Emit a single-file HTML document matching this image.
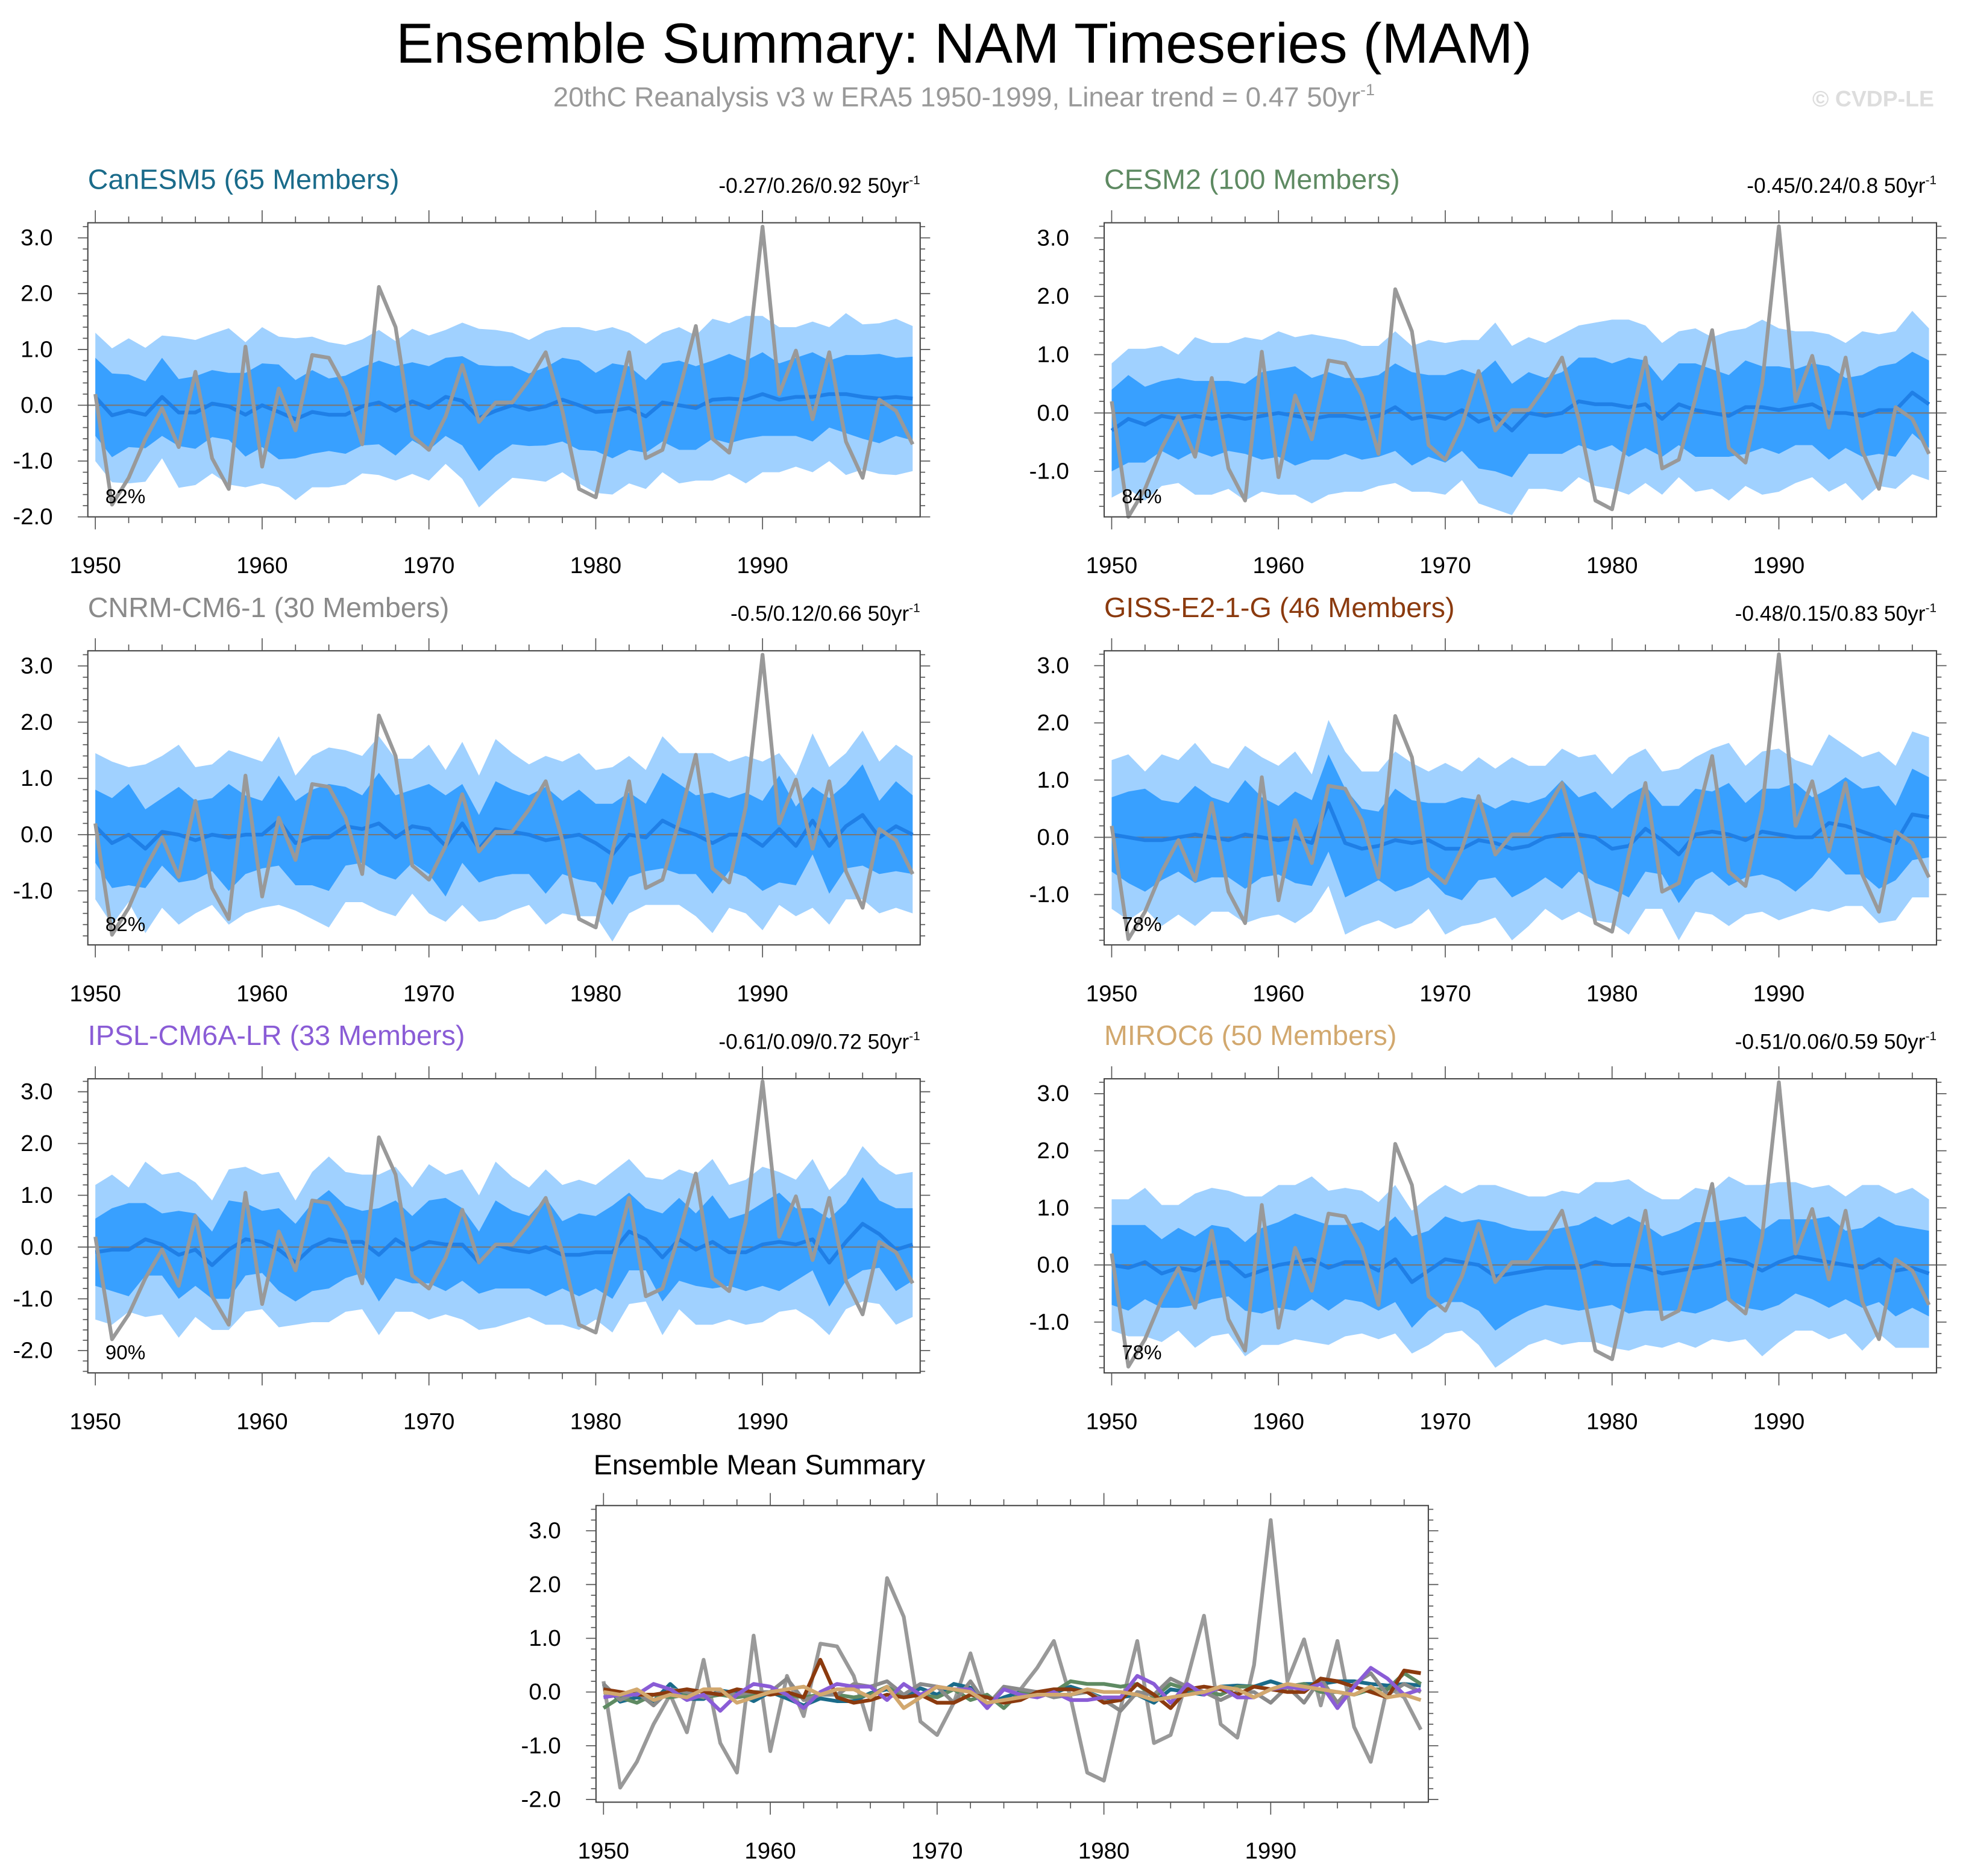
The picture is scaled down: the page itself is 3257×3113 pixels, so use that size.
<!DOCTYPE html>
<html><head><meta charset="utf-8"><style>
html,body{margin:0;padding:0;background:#fff;}
svg{display:block;}
text{font-family:"Liberation Sans",sans-serif;}
</style></head><body>
<svg id="chart" width="3257" height="3113" viewBox="0 0 1568 1499" xmlns="http://www.w3.org/2000/svg">
<text x="770" y="50" text-anchor="middle" font-size="45">Ensemble Summary: NAM Timeseries (MAM)</text>
<text x="770" y="85" text-anchor="middle" font-size="22" fill="#999">20thC Reanalysis v3 w ERA5 1950-1999, Linear trend = 0.47 50yr<tspan dy="-9" font-size="13">-1</tspan></text>
<text x="1545" y="85" text-anchor="end" font-size="18" font-weight="bold" fill="#ddd">© CVDP-LE</text>
<g id="panels"></g>
</svg>
<script>
const years=[];for(let y=1950;y<=1999;y++)years.push(y);
const obs=[0.2,-1.78,-1.3,-0.6,-0.05,-0.75,0.6,-0.95,-1.5,1.05,-1.1,0.3,-0.45,0.9,0.85,0.3,-0.7,2.12,1.4,-0.55,-0.8,-0.2,0.72,-0.3,0.05,0.05,0.45,0.95,-0.1,-1.5,-1.65,-0.3,0.95,-0.95,-0.8,0.25,1.42,-0.6,-0.85,0.5,3.2,0.2,0.98,-0.25,0.95,-0.65,-1.3,0.1,-0.1,-0.7];
const meanCan=[0.15,-0.18,-0.1,-0.17,0.15,-0.13,-0.13,0.03,-0.02,-0.17,0.0,-0.12,-0.25,-0.12,-0.17,-0.17,-0.02,0.05,-0.1,0.07,-0.05,0.15,0.08,-0.23,-0.1,0,-0.08,-0.02,0.1,0.0,-0.12,-0.1,-0.05,-0.2,0.05,0.0,-0.05,0.1,0.12,0.1,0.2,0.1,0.15,0.15,0.2,0.2,0.15,0.12,0.15,0.12];
const meanCesm=[-0.3,-0.1,-0.2,-0.05,-0.1,-0.05,-0.1,-0.05,-0.1,-0.05,0.0,-0.05,-0.1,-0.05,-0.05,-0.1,-0.05,0.1,-0.1,-0.05,-0.1,0.05,-0.15,-0.05,-0.3,0.0,-0.05,0.0,0.2,0.15,0.15,0.1,0.15,-0.1,0.15,0.05,0.0,-0.05,0.1,0.1,0.05,0.1,0.15,0.0,0.0,-0.05,0.05,0.05,0.35,0.15];
const meanCnrm=[0.15,-0.15,0.0,-0.25,0.05,0.0,-0.1,0.0,-0.05,0.0,0.0,0.25,-0.15,-0.05,-0.05,0.15,0.1,0.2,-0.05,0.15,0.1,-0.2,0.2,-0.25,0.1,0.05,0.0,-0.1,-0.05,0.0,-0.15,-0.35,0.0,-0.05,0.25,0.1,0.0,-0.15,0.0,0.0,-0.2,0.1,-0.2,0.25,-0.2,0.15,0.35,-0.05,0.15,0.0];
const meanGiss=[0.05,0.0,-0.05,-0.05,0.0,0.05,0.0,-0.05,0.05,0.0,-0.05,0.0,-0.1,0.6,-0.1,-0.2,-0.15,-0.05,-0.1,-0.05,-0.2,-0.2,-0.05,-0.1,-0.2,-0.15,0.0,0.05,0.05,0.0,-0.2,-0.15,0.15,-0.05,-0.3,0.05,0.1,0.05,-0.05,0.1,0.05,0.0,0.0,0.25,0.2,0.1,0.0,-0.1,0.4,0.35];
const meanIpsl=[-0.1,-0.05,-0.05,0.15,0.05,-0.15,-0.05,-0.35,-0.05,0.15,0.1,-0.05,-0.3,0.0,0.15,0.1,0.1,-0.15,0.15,-0.05,0.1,0.05,0.05,-0.3,0.05,-0.05,-0.1,0.0,-0.15,-0.15,-0.1,-0.1,0.3,0.15,-0.2,0.15,-0.05,0.1,-0.1,-0.1,0.05,0.1,0.05,0.15,-0.3,0.1,0.45,0.25,-0.05,0.05];
const meanMiroc=[0.0,-0.05,0.05,-0.15,-0.05,-0.1,0.05,0.05,-0.2,-0.1,0.0,0.05,0.1,-0.05,0.05,0.05,-0.1,0.1,-0.3,-0.1,0.1,0.05,0.0,-0.2,-0.15,-0.1,-0.05,-0.05,-0.05,0.05,0.0,0.0,-0.05,-0.15,-0.1,-0.05,0.0,0.1,0.05,-0.1,0.05,0.15,0.1,0.05,0.0,-0.05,0.1,-0.1,-0.05,-0.15];
const innerA=[0.7,0.75,0.65,0.6,0.7,0.6,0.65,0.6,0.6,0.75,0.75,0.85,0.7,0.75,0.65,0.7,0.7,0.75,0.8,0.7,0.75,0.7,0.8,0.95,0.8,0.7,0.65,0.7,0.75,0.8,0.7,0.85,0.75,0.65,0.7,0.8,0.75,0.7,0.8,0.7,0.75,0.65,0.7,0.8,0.6,0.7,0.75,0.8,0.7,0.75];
const outerA=[1.15,1.2,1.3,1.2,1.1,1.35,1.3,1.25,1.4,1.3,1.4,1.35,1.45,1.35,1.3,1.25,1.2,1.3,1.25,1.3,1.3,1.2,1.4,1.6,1.45,1.3,1.25,1.35,1.3,1.4,1.45,1.5,1.35,1.3,1.25,1.4,1.3,1.45,1.35,1.5,1.4,1.3,1.25,1.35,1.2,1.45,1.3,1.35,1.4,1.3];
const innerB=[0.65,0.8,0.9,0.7,0.6,0.85,0.7,0.65,0.95,0.7,0.6,0.8,0.75,0.85,0.95,0.7,0.6,0.9,0.75,0.65,0.8,0.9,0.7,0.6,0.85,0.75,0.7,0.95,0.65,0.8,0.7,0.9,0.75,0.6,0.85,0.8,0.7,0.9,0.65,0.75,0.8,0.95,0.7,0.6,0.85,0.75,0.9,0.65,0.8,0.7];
const outerB=[1.3,1.45,1.2,1.5,1.35,1.6,1.3,1.25,1.55,1.4,1.3,1.5,1.2,1.45,1.6,1.35,1.3,1.55,1.4,1.2,1.5,1.35,1.45,1.3,1.6,1.4,1.25,1.5,1.35,1.45,1.3,1.55,1.4,1.2,1.5,1.35,1.45,1.6,1.3,1.4,1.5,1.35,1.25,1.55,1.4,1.3,1.5,1.35,1.45,1.4];
const modelNames=["CanESM5 (65 Members)","CESM2 (100 Members)","CNRM-CM6-1 (30 Members)","GISS-E2-1-G (46 Members)","IPSL-CM6A-LR (33 Members)","MIROC6 (50 Members)"];
const trendLabels=["-0.27/0.26/0.92","-0.45/0.24/0.8","-0.5/0.12/0.66","-0.48/0.15/0.83","-0.61/0.09/0.72","-0.51/0.06/0.59"];
const pctLabels=["82%","84%","82%","78%","90%","78%"];
const yTickLabels=["-2.0","-1.0","0.0","1.0","2.0","3.0"];
const yTickValues=[-2,-1,0,1,2,3];
const xTickValues=[1950,1960,1970,1980,1990];

const NS="http://www.w3.org/2000/svg";
const root=document.getElementById('panels');
function mk(tag,attrs,parent){const e=document.createElementNS(NS,tag);for(const k in attrs)e.setAttribute(k,attrs[k]);(parent||root).appendChild(e);return e;}

const models=[
 {mean:meanCan,inner:innerA,outer:outerA,color:"#1a6b8a",x:70,y:178,ymin:-2.0,ymax:3.27},
 {mean:meanCesm,inner:innerA,outer:outerA,color:"#5e8a62",x:882,y:178,ymin:-1.78,ymax:3.26},
 {mean:meanCnrm,inner:innerB,outer:outerB,color:"#8a8a8a",x:70,y:520,ymin:-1.96,ymax:3.27},
 {mean:meanGiss,inner:innerB,outer:outerB,color:"#8b3a0e",x:882,y:520,ymin:-1.88,ymax:3.26},
 {mean:meanIpsl,inner:innerB,outer:outerB,color:"#8a5cd6",x:70,y:862,ymin:-2.43,ymax:3.25},
 {mean:meanMiroc,inner:innerA,outer:outerA,color:"#d2a86e",x:882,y:862,ymin:-1.89,ymax:3.26}
];
const W=665,H=235;

function axes(g,x0,y0,w,h,ymin,ymax){
  const sx=v=>x0+6+(v-1950)*(w-12)/49;
  const sy=v=>y0+h-(v-ymin)*h/(ymax-ymin);
  return {sx,sy};
}
function drawFrame(g,x0,y0,w,h,ymin,ymax,sx,sy){
  const fr=mk('rect',{x:x0,y:y0,width:w,height:h,fill:'none',stroke:'#444','stroke-width':1},g);
  
  
  for(let v=Math.ceil(ymin*5)/5;v<=ymax+1e-9;v+=0.2){
    const vv=Math.round(v*10)/10;const major=Math.abs(vv-Math.round(vv))<1e-6;
    const L=major?8:4;const yy=sy(vv);
    mk('line',{x1:x0-L,x2:x0,y1:yy,y2:yy,stroke:'#555','stroke-width':0.8},g);
    mk('line',{x1:x0+w,x2:x0+w+L,y1:yy,y2:yy,stroke:'#555','stroke-width':0.8},g);
  }
  yTickValues.forEach((v,i)=>{if(v<ymin-1e-6||v>ymax)return;
    const t=mk('text',{x:x0-28,y:sy(v)+6,'text-anchor':'end','font-size':18.5},g);t.textContent=yTickLabels[i];
    
    });
  for(let yr=1950;yr<=1999;yr+=2){const major=(yr%10===0);const L=major?10:5;const xx=sx(yr);
    mk('line',{x1:xx,x2:xx,y1:y0+h,y2:y0+h+L,stroke:'#555','stroke-width':0.8},g);
    mk('line',{x1:xx,x2:xx,y1:y0-L,y2:y0,stroke:'#555','stroke-width':0.8},g);}
  xTickValues.forEach(v=>{const t=mk('text',{x:sx(v),y:y0+h+45,'text-anchor':'middle','font-size':18.5},g);t.textContent=v;
    
    });
}
function line(g,arr,sx,sy,color,wd){
  const d=arr.map((v,i)=>(i?'L':'M')+sx(years[i]).toFixed(2)+','+sy(v).toFixed(2)).join('');
  return mk('path',{d:d,fill:'none',stroke:color,'stroke-width':wd,'stroke-linejoin':'round'},g);
}
function band(g,lo,hi,sx,sy,color){
  let d='M'+years.map((y,i)=>sx(y).toFixed(2)+','+sy(hi[i]).toFixed(2)).join('L');
  d+='L'+years.map((y,i)=>i).reverse().map(i=>sx(years[i]).toFixed(2)+','+sy(lo[i]).toFixed(2)).join('L')+'Z';
  return mk('path',{d:d,fill:color,stroke:'none'},g);
}

models.forEach((m,k)=>{
  const g=mk('g',{});
  
  
  const {sx,sy}=axes(g,m.x,m.y,W,H,m.ymin,m.ymax);
  const oLo=m.mean.map((v,i)=>v-m.outer[i]),oHi=m.mean.map((v,i)=>v+m.outer[i]);
  const iLo=m.mean.map((v,i)=>v-m.inner[i]),iHi=m.mean.map((v,i)=>v+m.inner[i]);
  const b1=band(g,oLo,oHi,sx,sy,'#a0d1ff');
  
  
  const b2=band(g,iLo,iHi,sx,sy,'#38a0ff');
  
  
  mk('line',{x1:m.x,x2:m.x+W,y1:sy(0),y2:sy(0),stroke:'#777','stroke-width':1},g);
  const ml=line(g,m.mean,sx,sy,'#1f7fe6',3);
  
  
  const ol=line(g,obs,sx,sy,'#999',3);
  
  
  drawFrame(g,m.x,m.y,W,H,m.ymin,m.ymax,sx,sy);
  const t=mk('text',{x:m.x,y:m.y-27,'font-size':22.5,fill:m.color},g);t.textContent=modelNames[k];
  
  
  const tr=mk('text',{x:m.x+W,y:m.y-24,'text-anchor':'end','font-size':17},g);
  tr.innerHTML=trendLabels[k]+' 50yr<tspan dy="-7" font-size="10">-1</tspan>';
  
  
  const p=mk('text',{x:m.x+14,y:m.y+H-11,'font-size':16},g);p.textContent=pctLabels[k];
  
  
});

// ensemble mean summary
(function(){
  const x0=476,y0=1203,ymin=-2.05,ymax=3.47;
  const g=mk('g',{});
  
  
  const {sx,sy}=axes(g,x0,y0,W,H+2,ymin,ymax);
  const ol=line(g,obs,sx,sy,'#999',3);
  
  
  models.forEach((m,k)=>{const l=line(g,m.mean,sx,sy,m.color,3);
    
    });
  drawFrame(g,x0,y0,W,H+2,ymin,ymax,sx,sy);
  const t=mk('text',{x:x0-2,y:y0-25,'font-size':22.5},g);t.textContent='Ensemble Mean Summary';
  
  
})();
</script>
</body></html>
